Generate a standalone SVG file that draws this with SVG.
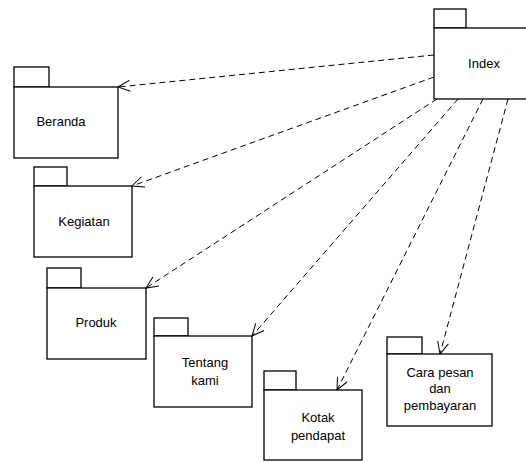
<svg xmlns="http://www.w3.org/2000/svg" width="526" height="462" viewBox="0 0 526 462">
  <defs>
    <style>
      .pkg rect { fill: #ffffff; stroke: #000000; stroke-width: 1.3; }
      .pkg text { font-family: "Liberation Sans", Arial, sans-serif; font-size: 13px; fill: #000000; text-anchor: middle; }
      .dep { fill: none; stroke: #000000; stroke-width: 1; stroke-dasharray: 6 4; marker-end: url(#open); }
    </style>
    <marker id="open" viewBox="0 0 14 12" refX="13" refY="6" markerWidth="14" markerHeight="12" markerUnits="userSpaceOnUse" orient="auto">
      <path d="M1,0.5 L13,6 L1,11.5" fill="none" stroke="#000000" stroke-width="1" stroke-dasharray="none"/>
    </marker>
  </defs>
  <rect width="526" height="462" fill="#ffffff"/>

  <g id="index" class="pkg">
    <rect x="434" y="9" width="32" height="19"/>
    <rect x="434" y="28" width="94" height="71"/>
    <text x="484" y="68">Index</text>
  </g>

  <g id="beranda" class="pkg">
    <rect x="14" y="67" width="35" height="20"/>
    <rect x="14" y="87" width="104" height="71"/>
    <text x="61" y="126">Beranda</text>
  </g>

  <g id="kegiatan" class="pkg">
    <rect x="34" y="167" width="33" height="19"/>
    <rect x="34" y="186" width="98" height="71"/>
    <text x="84" y="226">Kegiatan</text>
  </g>

  <g id="produk" class="pkg">
    <rect x="47" y="268" width="34" height="20"/>
    <rect x="47" y="288" width="99" height="71"/>
    <text x="96" y="327">Produk</text>
  </g>

  <g id="tentang-kami" class="pkg">
    <rect x="154" y="318" width="34" height="18"/>
    <rect x="154" y="336" width="98" height="71"/>
    <text x="205" y="367">Tentang</text>
    <text x="205" y="385">kami</text>
  </g>

  <g id="kotak-pendapat" class="pkg">
    <rect x="264" y="371" width="32" height="19"/>
    <rect x="264" y="390" width="98" height="70"/>
    <text x="318" y="422">Kotak</text>
    <text x="318" y="440">pendapat</text>
  </g>

  <g id="cara-pesan" class="pkg">
    <rect x="387" y="337" width="35" height="17"/>
    <rect x="387" y="354" width="105" height="72"/>
    <text x="440" y="377">Cara pesan</text>
    <text x="440" y="393">dan</text>
    <text x="440" y="410">pembayaran</text>
  </g>

  <g id="connectors">
    <line class="dep" x1="434" y1="55" x2="118" y2="87"/>
    <line class="dep" x1="434" y1="77" x2="132" y2="186"/>
    <line class="dep" x1="437" y1="99" x2="146" y2="288"/>
    <line class="dep" x1="458" y1="99" x2="252" y2="336"/>
    <line class="dep" x1="483" y1="99" x2="337" y2="390"/>
    <line class="dep" x1="508" y1="99" x2="440" y2="354"/>
  </g>
</svg>
